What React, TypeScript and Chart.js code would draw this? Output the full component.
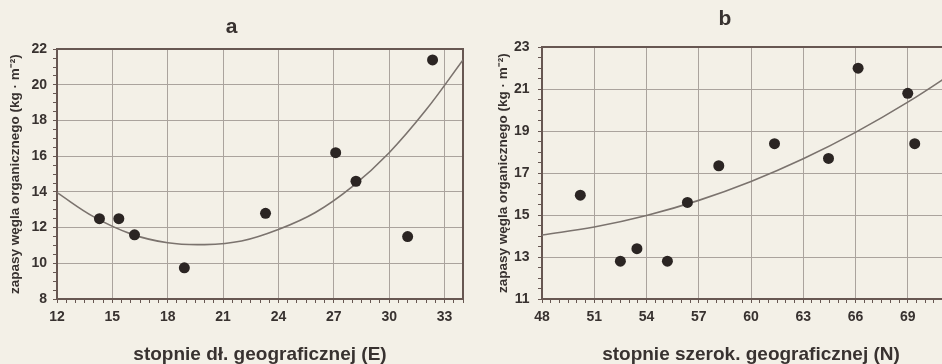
import React, { useEffect, useRef } from 'react';
import { Chart, registerables } from 'chart.js';

Chart.register(...registerables);

// ---- data ----
const A_X = [14.3, 15.35, 16.2, 18.9, 23.3, 27.1, 28.2, 31.0, 32.35];
const A_Y = [12.5, 12.5, 11.6, 9.75, 12.8, 16.2, 14.6, 11.5, 21.4];
const A_CURVE_X = [12, 14, 16, 18, 20, 22, 24, 26, 28, 30, 32, 34];
const A_CURVE_Y = [13.96, 12.6, 11.65, 11.15, 11.05, 11.25, 11.9, 12.85, 14.3, 16.2, 18.6, 21.4];

const B_X = [50.2, 52.5, 53.45, 55.2, 56.35, 58.15, 61.35, 64.45, 66.15, 69.0, 69.4];
const B_Y = [15.95, 12.8, 13.4, 12.8, 15.6, 17.35, 18.4, 17.7, 22.0, 20.8, 18.4];
const B_CURVE_X = [48, 51, 54, 57, 60, 63, 66, 69, 72];
const B_CURVE_Y = [14.05, 14.43, 14.98, 15.7, 16.6, 17.68, 18.94, 20.38, 22.0];

const A_TITLE = 'a';
const B_TITLE = 'b';
const A_XTITLE = 'stopnie dł. geograficznej (E)';
const B_XTITLE = 'stopnie szerok. geograficznej (N)';
const Y_TITLE = 'zapasy węgla organicznego (kg · m⁻²)';

// ---- styles ----
const FONT = "'Liberation Sans', Arial, Helvetica, sans-serif";
const BG = '#f3f0e7';
const GRID = '#aaa39d';
const AXIS = '#675752';
const TEXT = '#383230';
const POINT = '#2b2523';
const CURVE = '#7b736e';

const near = (v: number) => Math.abs(v - Math.round(v)) < 1e-6;

type Cfg = {
  title: string;
  titlePad: { top: number; bottom: number };
  xTitle: string;
  xMin: number; xMax: number; xMajor: (v: number) => boolean;
  yMin: number; yMax: number; yMajor: (v: number) => boolean;
  yWidth: number; yTitlePad: number; yTickPad: number;
  padRight: number;
  px: number[]; py: number[]; cx: number[]; cy: number[];
};

function frameAxis(pos: string, min: number, max: number) {
  return {
    type: 'linear', position: pos, min, max, display: true,
    grid: { display: false, drawTicks: false },
    ticks: { display: false },
    border: { display: true, color: AXIS, width: 2 },
    afterFit: (s: any) => { if (pos === 'top') s.height = 0; else s.width = 0; },
  };
}

function makeConfig(c: Cfg): any {
  return {
    type: 'scatter',
    data: {
      datasets: [
        {
          type: 'scatter',
          data: c.px.map((x, i) => ({ x, y: c.py[i] })),
          pointRadius: 5.5,
          pointBackgroundColor: POINT,
          pointBorderColor: POINT,
          pointBorderWidth: 0,
        },
        {
          type: 'line',
          data: c.cx.map((x, i) => ({ x, y: c.cy[i] })),
          showLine: true,
          pointRadius: 0,
          borderColor: CURVE,
          borderWidth: 1.6,
          tension: 0.4,
          fill: false,
        },
      ],
    },
    options: {
      responsive: false,
      animation: false,
      events: [],
      layout: { padding: { left: 0, right: c.padRight, top: 0, bottom: 0 } },
      plugins: {
        legend: { display: false },
        tooltip: { enabled: false },
        title: {
          display: true, text: c.title, color: TEXT,
          font: { family: FONT, size: 21, weight: 'bold' },
          padding: c.titlePad,
        },
      },
      scales: {
        x: {
          type: 'linear', position: 'bottom', min: c.xMin, max: c.xMax,
          ticks: {
            stepSize: 0.5, autoSkip: false, maxRotation: 0, minRotation: 0, maxTicksLimit: 1000,
            padding: 6, color: TEXT, font: { family: FONT, size: 14, weight: 'bold' },
            callback: (v: number) => (c.xMajor(v) && v < c.xMax ? String(v) : ''),
          },
          grid: {
            color: (ctx: any) => (ctx.tick && c.xMajor(ctx.tick.value) ? GRID : 'rgba(0,0,0,0)'),
            tickColor: AXIS, tickLength: 4, lineWidth: 1,
          },
          border: { color: AXIS, width: 2 },
          title: {
            display: true, text: c.xTitle, color: TEXT,
            font: { family: FONT, size: 19, weight: 'bold' }, padding: { top: 0, bottom: -2 },
          },
          afterFit: (s: any) => { s.height = 65; },
        },
        y: {
          type: 'linear', position: 'left', min: c.yMin, max: c.yMax,
          ticks: {
            stepSize: 0.5, autoSkip: false, maxTicksLimit: 1000,
            padding: c.yTickPad, color: TEXT, font: { family: FONT, size: 14, weight: 'bold' },
            callback: (v: number) => (c.yMajor(v) ? String(v) : ''),
          },
          grid: {
            color: (ctx: any) => (ctx.tick && c.yMajor(ctx.tick.value) ? GRID : 'rgba(0,0,0,0)'),
            tickColor: AXIS, tickLength: 4, lineWidth: 1,
          },
          border: { color: AXIS, width: 2 },
          title: {
            display: true, text: Y_TITLE, color: TEXT,
            font: { family: FONT, size: 13.5, weight: 'bold' }, padding: { top: c.yTitlePad, bottom: 0 },
          },
          afterFit: (s: any) => { s.width = c.yWidth; },
        },
        xTop: frameAxis('top', c.xMin, c.xMax),
        yRight: frameAxis('right', c.yMin, c.yMax),
      },
    },
  };
}

const CFG_A: Cfg = {
  title: A_TITLE, titlePad: { top: 15, bottom: 9 },
  xTitle: A_XTITLE,
  xMin: 12, xMax: 34, xMajor: (v) => near(v / 3),
  yMin: 8, yMax: 22, yMajor: (v) => near(v / 2),
  yWidth: 57, yTitlePad: 7, yTickPad: 6, padRight: 7,
  px: A_X, py: A_Y, cx: A_CURVE_X, cy: A_CURVE_Y,
};

const CFG_B: Cfg = {
  title: B_TITLE, titlePad: { top: 7, bottom: 15 },
  xTitle: B_XTITLE,
  xMin: 48, xMax: 72, xMajor: (v) => near(v / 3),
  yMin: 11, yMax: 23, yMajor: (v) => near((v - 11) / 2),
  yWidth: 52, yTitlePad: 5.5, yTickPad: 8.5, padRight: 6,
  px: B_X, py: B_Y, cx: B_CURVE_X, cy: B_CURVE_Y,
};

export default function App() {
  const refA = useRef<HTMLCanvasElement | null>(null);
  const refB = useRef<HTMLCanvasElement | null>(null);

  useEffect(() => {
    Chart.defaults.font.family = FONT;
    const a = new Chart(refA.current as HTMLCanvasElement, makeConfig(CFG_A));
    const b = new Chart(refB.current as HTMLCanvasElement, makeConfig(CFG_B));
    return () => { a.destroy(); b.destroy(); };
  }, []);

  return (
    <div style={{ position: 'fixed', left: 0, top: 0, width: 942, height: 364, overflow: 'hidden', background: BG }}>
      <canvas ref={refA} width={470} height={364} style={{ position: 'absolute', left: 0, top: 0 }} />
      <canvas ref={refB} width={476} height={364} style={{ position: 'absolute', left: 490, top: 0 }} />
    </div>
  );
}
